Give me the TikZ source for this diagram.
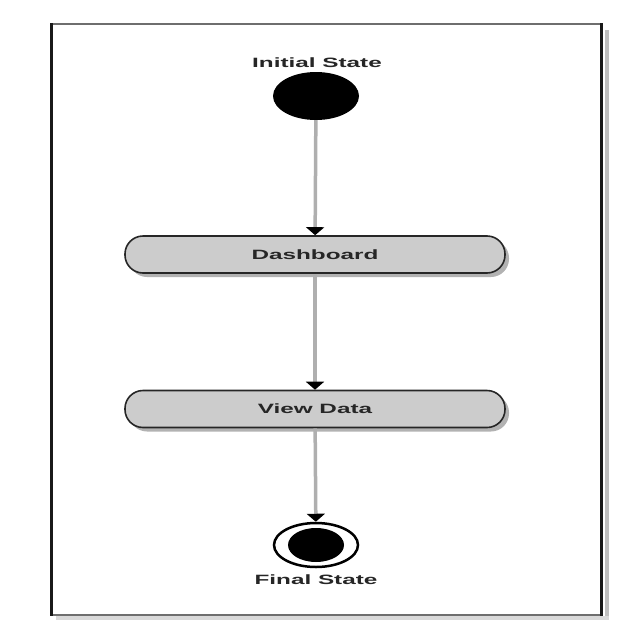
\documentclass[tikz,border=0pt]{standalone}
\usepackage{fontspec}
\setmainfont{Liberation Sans}[FakeStretch=1.8]
\usepackage{tikz}
\usepackage{xcolor}
\usetikzlibrary{arrows.meta,shapes.geometric,shadows}

\definecolor{actfill}{RGB}{204,204,204}
\definecolor{flowgray}{RGB}{175,175,175}
\definecolor{framegray}{RGB}{110,110,110}

\tikzset{
  lbl/.style={font=\fontsize{13.5}{15}\selectfont\bfseries, text=black!85},
  activity/.style={draw=black!85, line width=1.6pt, fill=actfill, rounded corners=18pt,
    minimum width=380pt, minimum height=37pt, inner sep=0pt,
    drop shadow={shadow xshift=4pt, shadow yshift=-4pt, fill=black!30, opacity=1},
    font=\fontsize{13.5}{15}\selectfont\bfseries, text=black!85},
  flow/.style={flowgray, line width=3.5pt,
    -{Triangle[black, width=18pt, length=8pt]}, shorten >=0pt},
}

\begin{document}
\begin{tikzpicture}[x=1pt, y=-1pt]
\useasboundingbox (0,0) rectangle (640,640);

% frame
\fill[black!25] (605,30) rectangle (609,620);
\fill[black!15] (56,616) rectangle (609,620);
\draw[framegray, line width=2.5pt] (51,24) -- (600,24);
\draw[framegray, line width=2.5pt] (51,615) -- (600,615);
\draw[black!90, line width=3pt] (51,23) -- (51,616);
\draw[black!90, line width=3pt] (601,23) -- (601,616);

% states
\node[ellipse, fill=black, minimum width=86pt, minimum height=48pt, inner sep=0pt] (init) at (316,96) {};
\node[lbl] (initlbl) at (317,63) {Initial State};

\node[activity] (dash) at (315,254.5) {Dashboard};
\node[activity] (view) at (315,409) {View Data};

\node[ellipse, draw=black, line width=2.5pt, fill=white, minimum width=84pt, minimum height=44pt, inner sep=0pt] (final) at (316,545) {};
\node[ellipse, fill=black, minimum width=56pt, minimum height=34pt, inner sep=0pt] (finalin) at (final.center) {};
\node[lbl] (finallbl) at (316,580) {Final State};

% transitions
\draw[flow] (init) -- (dash);
\draw[flow] (dash) -- (view);
\draw[flow] (view) -- (final);
\end{tikzpicture}
\end{document}
